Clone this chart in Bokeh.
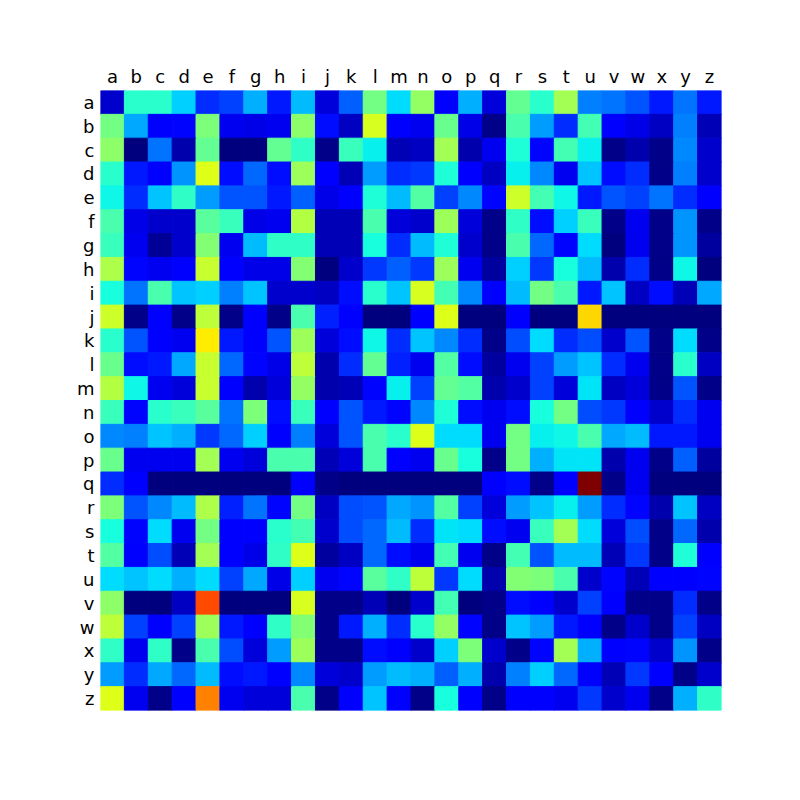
import numpy as np
from bokeh.plotting import figure
from bokeh.models import ColumnDataSource, FactorRange, LinearColorMapper
from bokeh.transform import transform
from bokeh.embed import file_html
from bokeh.resources import INLINE

letters = list("abcdefghijklmnopqrstuvwxyz")

# values in hundredths, one list per row, columns a..z
row_a = [7,40,40,33,17,19,30,15,31,8,22,49,34,53,11,30,8,47,40,55,25,24,21,15,24,15]
row_b = [49,29,11,13,50,10,9,10,52,14,6,61,11,10,48,9,1,44,28,17,43,11,9,6,25,5]
row_c = [52,0,24,4,47,0,0,47,41,1,42,36,5,6,55,4,10,39,13,43,36,1,4,1,26,7]
row_d = [40,15,12,27,62,14,23,14,54,12,5,28,17,18,39,11,6,36,26,10,32,14,17,1,25,7]
row_e = [37,17,32,41,28,21,21,15,22,9,11,39,31,45,19,26,13,60,43,37,15,21,19,24,17,11]
row_f = [44,9,7,7,46,42,9,10,57,5,5,44,8,7,54,8,1,41,14,33,42,1,10,1,27,1]
row_g = [42,10,2,7,51,10,31,41,41,5,5,38,17,31,39,7,1,44,23,13,34,0,10,1,27,3]
row_h = [56,13,10,11,59,12,9,9,51,0,7,18,22,18,54,10,3,33,18,38,31,4,17,1,37,0]
row_i = [38,24,44,32,33,25,32,7,7,6,14,40,32,61,43,26,11,31,49,44,15,32,6,14,5,29]
row_j = [60,1,11,1,58,1,11,1,44,16,11,0,0,11,62,0,0,11,0,0,68,0,0,0,0,0]
row_k = [40,21,12,10,66,15,11,21,54,8,14,37,17,32,26,17,1,20,34,17,20,7,21,1,34,1]
row_l = [48,14,15,29,59,23,13,9,58,4,17,47,16,10,45,14,3,10,19,28,32,17,10,1,40,6]
row_m = [57,37,10,8,59,12,4,8,53,4,5,13,36,19,47,45,4,7,19,8,35,6,8,1,21,1]
row_n = [42,13,40,42,46,24,50,14,42,11,21,15,13,26,39,14,10,14,38,49,20,18,11,7,17,10]
row_o = [26,25,32,30,18,23,33,12,25,8,21,44,40,62,34,34,10,49,36,37,44,29,31,15,15,10]
row_p = [48,10,10,10,55,10,8,44,44,5,8,44,12,10,48,38,1,49,30,35,35,4,10,1,22,3]
row_q = [17,11,0,0,0,0,0,0,12,1,0,0,0,0,0,0,11,14,1,11,100,1,10,0,0,0]
row_r = [50,21,26,31,56,16,24,13,49,6,20,21,29,27,45,19,8,28,32,36,28,17,13,4,32,6]
row_s = [38,13,34,10,49,12,11,40,43,7,20,23,31,17,35,34,14,10,42,55,34,8,20,1,23,4]
row_t = [45,11,20,5,55,12,9,41,62,3,6,23,14,10,43,10,1,43,21,31,31,5,18,1,39,11]
row_u = [34,32,34,30,34,19,29,9,33,10,13,46,41,58,18,34,4,51,50,44,7,13,5,12,11,13]
row_v = [52,0,0,6,83,0,0,0,61,1,1,5,0,7,43,0,1,14,11,7,19,11,1,1,17,1]
row_w = [58,19,11,19,54,15,11,41,51,1,15,30,17,40,53,13,1,32,28,15,11,1,7,1,19,6]
row_x = [41,10,41,1,44,20,8,28,54,1,1,14,11,7,33,50,7,1,13,55,30,11,13,7,27,1]
row_y = [28,17,29,23,31,14,15,11,26,8,7,28,31,30,22,30,4,25,33,23,11,5,18,11,1,7]
row_z = [62,10,1,11,77,10,8,8,44,1,11,32,12,1,38,11,1,11,11,10,18,7,10,1,30,41]

rows = [row_a,row_b,row_c,row_d,row_e,row_f,row_g,row_h,row_i,row_j,row_k,row_l,row_m,
        row_n,row_o,row_p,row_q,row_r,row_s,row_t,row_u,row_v,row_w,row_x,row_y,row_z]

# matplotlib "jet" colormap
t = np.linspace(0, 1, 256)
r = np.interp(t, [0, .35, .66, .89, 1], [0, 0, 1, 1, .5])
g = np.interp(t, [0, .125, .375, .64, .91, 1], [0, 0, 1, 1, 0, 0])
b = np.interp(t, [0, .11, .34, .65, 1], [.5, 1, 1, 0, 0])
jet = ["#%02x%02x%02x" % (int(a*255), int(c*255), int(d*255)) for a, c, d in zip(r, g, b)]

xs, ys, vs = [], [], []
for name, row in zip(letters, rows):
    for col, v in zip(letters, row):
        xs.append(col); ys.append(name); vs.append(v / 100)
src = ColumnDataSource(dict(x=xs, y=ys, v=vs))
mapper = LinearColorMapper(palette=jet, low=0, high=1)

p = figure(width=784, height=784, output_backend="svg", toolbar_location=None,
           x_range=FactorRange(factors=letters, range_padding=0),
           y_range=FactorRange(factors=letters[::-1], range_padding=0),
           x_axis_location="above", min_border_left=100, min_border_right=63,
           min_border_top=90, min_border_bottom=74)
p.rect("x", "y", 1.0, 1.0, source=src, fill_color=transform("v", mapper),
       line_color=transform("v", mapper), line_width=1)

p.grid.visible = False
p.outline_line_color = None
for ax in (p.xaxis[0], p.yaxis[0]):
    ax.axis_line_color = None
    ax.major_tick_line_color = None
    ax.minor_tick_line_color = None
    ax.major_label_text_font = "DejaVu Sans"
    ax.major_label_text_font_size = "18px"
    ax.major_label_text_color = "#000000"
    ax.major_label_standoff = 6
p.xaxis[0].major_label_standoff = 4
p.xaxis[0].major_tick_out = 0
p.yaxis[0].major_tick_out = 0

open("out.html", "w").write(file_html(p, INLINE))
